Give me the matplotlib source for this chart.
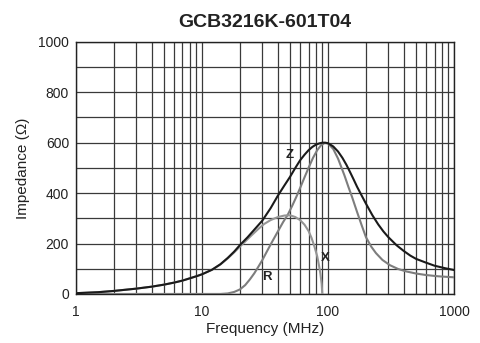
import numpy as np
import matplotlib.pyplot as plt

plt.rcParams['font.family'] = ['Liberation Sans', 'DejaVu Sans']

# Data: frequency [MHz] vs impedance [Ohm]
z_freq = [1, 1.5, 2, 3, 4, 5, 6, 7, 8, 9, 10, 12, 14, 16, 18, 20, 23, 26,
          30, 35, 40, 45, 50, 55, 60, 65, 70, 75, 80, 85, 90, 95, 100, 110,
          120, 130, 140, 150, 160, 170, 185, 200, 225, 250, 275, 300, 350,
          400, 450, 500, 600, 700, 850, 1000]
z_val = [3, 7, 12, 21, 29, 37, 45, 53, 62, 70, 78, 96, 118, 143, 168, 194,
         225, 255, 290, 340, 390, 430, 465, 500, 530, 552, 570, 583, 592,
         597, 600, 600, 598, 585, 565, 540, 512, 482, 453, 425, 390, 358,
         312, 276, 248, 226, 193, 170, 152, 139, 124, 112, 102, 95]

r_freq = [1, 10, 14, 16, 18, 20, 22, 24, 26, 28, 30, 33, 36, 40, 44, 48,
          52, 56, 60, 65, 70, 76, 82, 88, 94, 100, 110, 120, 127, 135, 145,
          155, 170, 185, 200, 220, 240, 270, 310, 360, 420, 500, 600, 750,
          1000]
r_val = [0, 0, 0, 2, 8, 18, 35, 58, 82, 108, 133, 172, 207, 248, 285, 315,
         350, 385, 420, 462, 500, 540, 570, 590, 599, 597, 575, 537, 505,
         470, 425, 385, 325, 272, 225, 188, 162, 135, 114, 99, 89, 81, 75,
         70, 66]

x_freq = [1, 1.5, 2, 3, 4, 5, 6, 7, 8, 9, 10, 12, 14, 16, 18, 20, 22, 25,
          28, 31, 35, 40, 45, 50, 55, 60, 65, 70, 74, 78, 82, 85, 87, 89, 90]
x_val = [3, 7, 12, 21, 29, 37, 45, 53, 62, 70, 78, 96, 117, 141, 165, 188,
         208, 235, 258, 277, 293, 305, 311, 312, 305, 293, 275, 250, 222,
         188, 150, 110, 80, 40, 0]

fig = plt.figure(figsize=(4.81, 3.43), dpi=100)
ax = fig.add_axes([0.158, 0.143, 0.786, 0.735])

ax.set_xscale('log')
ax.set_xlim(1, 1000)
ax.set_ylim(0, 1000)

ax.plot(r_freq, r_val, color='#7d7d7d', lw=1.5, zorder=3)
ax.plot(x_freq, x_val, color='#959595', lw=1.5, zorder=3)
ax.plot(z_freq, z_val, color='#1a1a1a', lw=1.5, zorder=4)

ax.set_xticks([1, 10, 100, 1000])
ax.set_xticklabels(['1', '10', '100', '1000'])
ax.set_yticks([0, 200, 400, 600, 800, 1000])
ax.set_yticks(np.arange(100, 1000, 200), minor=True)
ax.grid(True, which='both', color='#3a3a3a', lw=0.9)
ax.tick_params(which='both', length=0, labelsize=10, colors='#222222')
ax.tick_params(axis='x', pad=8)
ax.tick_params(axis='y', pad=5)
ax.set_axisbelow(True)
for s in ax.spines.values():
    s.set_color('#222222')
    s.set_linewidth(1.0)

ax.set_xlabel('Frequency (MHz)', fontsize=11, color='#222222', labelpad=2)
ax.set_ylabel('Impedance (\u03a9)', fontsize=11, color='#222222', labelpad=6)
ax.set_title('GCB3216K-601T04', fontsize=14, fontweight='bold', color='#222222', pad=11)

# curve labels
ax.text(50, 550, 'Z', fontsize=9.5, fontweight='bold', color='#222222', ha='center', va='center')
ax.text(33, 67, 'R', fontsize=9.5, fontweight='bold', color='#222222', ha='center', va='center')
ax.text(95, 143, 'X', fontsize=9.5, fontweight='bold', color='#222222', ha='center', va='center')

fig.savefig('out.png', dpi=100)
